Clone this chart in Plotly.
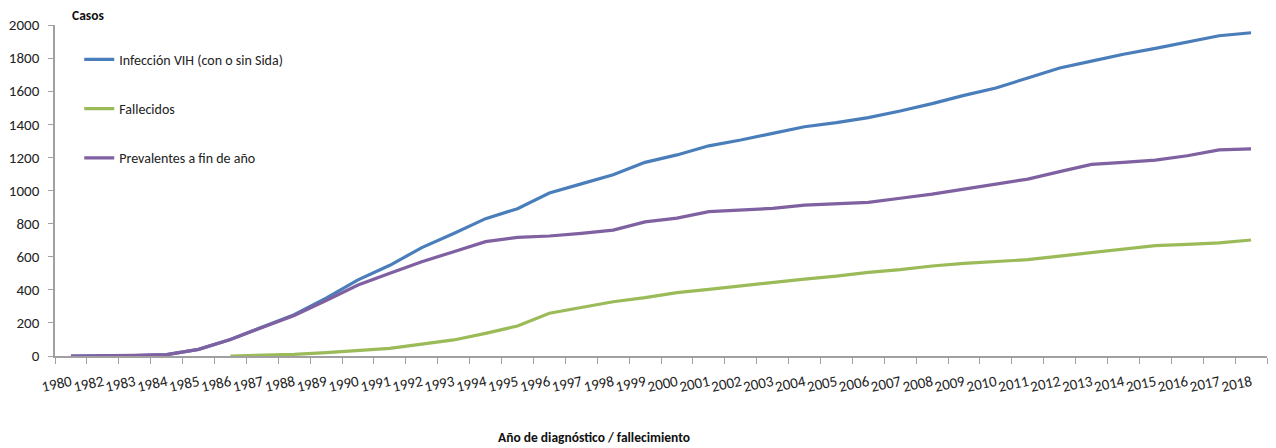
import plotly.graph_objects as go

years = ["1980", "1982", "1983", "1984", "1985", "1986", "1987", "1988", "1989", "1990",
         "1991", "1992", "1993", "1994", "1995", "1996", "1997", "1998", "1999", "2000",
         "2001", "2002", "2003", "2004", "2005", "2006", "2007", "2008", "2009", "2010",
         "2011", "2012", "2013", "2014", "2015", "2016", "2017", "2018"]

infeccion = [0, 0, 3, 8, 40, 100, 175, 250, 350, 460,
             548, 655, 740, 830, 890, 985, 1040, 1095, 1170, 1215,
             1270, 1305, 1345, 1385, 1410, 1440, 1480, 1525, 1575, 1619,
             1680, 1740, 1782, 1823, 1859, 1897, 1935, 1953]

fallecidos = [None, None, None, None, None, 0, 3, 10, 20, 32,
              46, 72, 97, 137, 181, 258, 294, 328, 353, 383,
              403, 425, 445, 465, 483, 505, 522, 544, 560, 570,
              582, 604, 626, 645, 667, 675, 683, 701]

prevalentes = [0, 0, 4, 8, 40, 100, 170, 245, 335, 429,
               500, 570, 630, 691, 717, 725, 741, 761, 810, 833,
               872, 882, 892, 912, 920, 928, 953, 978, 1008, 1037,
               1069, 1114, 1158, 1170, 1184, 1210, 1245, 1251]

FONT = "Carlito, Lato, Liberation Sans, sans-serif"

fig = go.Figure()
series = [
    ("Infección VIH (con o sin Sida)", infeccion, "#4A7EBB"),
    ("Fallecidos", fallecidos, "#9BBB59"),
    ("Prevalentes a fin de año", prevalentes, "#7F60A0"),
]
for i, (name, vals, col) in enumerate(series):
    fig.add_trace(go.Scatter(x=years, y=vals, mode="lines", name=name,
                             legendgroup=f"g{i}",
                             line=dict(color=col, width=3.2),
                             connectgaps=False))

fig.update_layout(
    width=1260, height=440,
    margin=dict(l=40, r=1, t=17, b=92),
    paper_bgcolor="white", plot_bgcolor="white",
    font=dict(family=FONT, size=14, color="#222222"),
    showlegend=True,
    legend=dict(x=0.02, y=0.943, xanchor="left", yanchor="top",
                traceorder="grouped", tracegroupgap=28,
                font=dict(family=FONT, size=14, color="#222222"),
                bgcolor="rgba(0,0,0,0)", itemwidth=30),
    xaxis=dict(type="category", range=[-0.5, 37.5],
               showline=True, linecolor="#A0A0A0", linewidth=1.5,
               ticks="outside", tickson="boundaries", ticklen=6, tickcolor="#A0A0A0",
               tickangle=-12, ticklabelstandoff=10,
               tickfont=dict(family=FONT, size=15, color="#222222"),
               showgrid=False, zeroline=False),
    yaxis=dict(range=[0, 2000], dtick=200,
               showline=True, linecolor="#A0A0A0", linewidth=1.5,
               ticks="outside", ticklen=5, tickcolor="#A0A0A0",
               ticklabelstandoff=6,
               tickfont=dict(family=FONT, size=15, color="#222222"),
               showgrid=False, zeroline=False),
    annotations=[
        dict(text="<b>Casos</b>", xref="paper", yref="paper",
             x=0.012, y=1.028, xanchor="left", yanchor="middle",
             showarrow=False, font=dict(family=FONT, size=13.5, color="#111111")),
        dict(text="<b>Año de diagnóstico / fallecimiento</b>", xref="paper", yref="paper",
             x=0.445, y=-0.245, xanchor="center", yanchor="middle",
             showarrow=False, font=dict(family=FONT, size=13.5, color="#111111")),
    ],
)

fig.write_html("out.html")
